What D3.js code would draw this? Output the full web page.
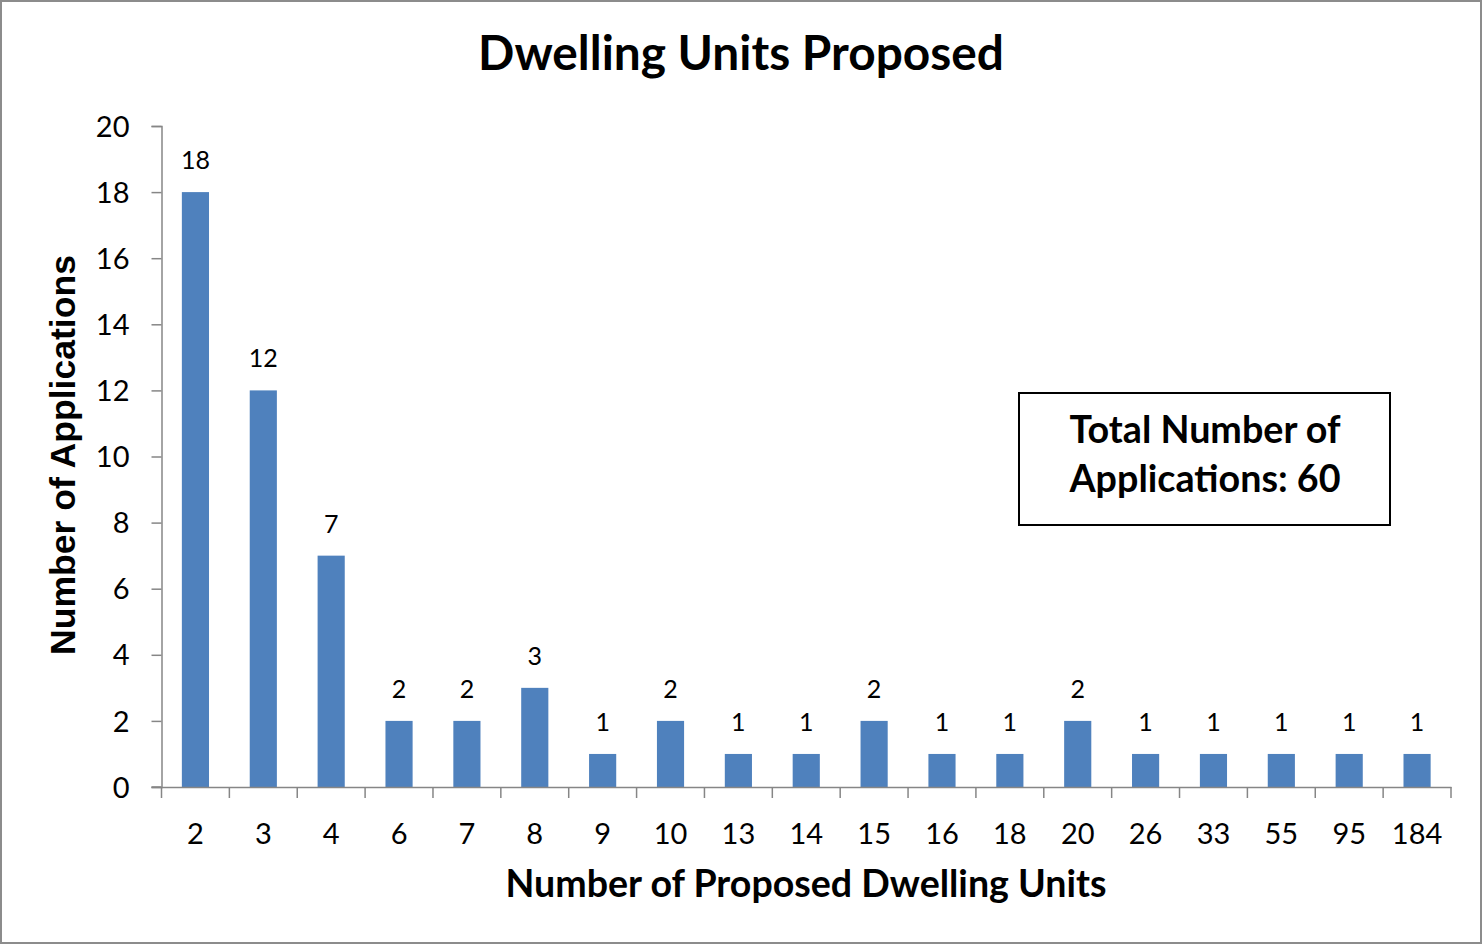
<!DOCTYPE html>
<html>
<head>
<meta charset="utf-8">
<script src="https://cdn.jsdelivr.net/npm/d3@7"></script>
<style>
  html, body { margin: 0; padding: 0; background: #fff; }
  svg { display: block; }
</style>
</head>
<body>
<svg id="chart" width="1483" height="945"></svg>
<script>
const categories = ["2", "3", "4", "6", "7", "8", "9", "10", "13", "14", "15", "16", "18", "20", "26", "33", "55", "95", "184"];
const applications = [18, 12, 7, 2, 2, 3, 1, 2, 1, 1, 2, 1, 1, 2, 1, 1, 1, 1, 1];
const yTicks = [0, 2, 4, 6, 8, 10, 12, 14, 16, 18, 20];
const titleText = "Dwelling Units Proposed";
const xTitleText = "Number of Proposed Dwelling Units";
const yTitleText = "Number of Applications";
const noteLines = ["Total Number of", "Applications: 60"];

const W = 1483, H = 945;
const svg = d3.select("#chart");
const font = "Lato, 'Open Sans', sans-serif";
const axisColor = "#868686";

// outer border
svg.append("rect").attr("x", 1).attr("y", 1).attr("width", W - 3).attr("height", H - 3)
  .attr("fill", "#fff").attr("stroke", "#8c8c8c").attr("stroke-width", 2);

const plot = { left: 161.5, right: 1451, top: 126, bottom: 787 };

const x = d3.scaleBand().domain(categories).range([plot.left, plot.right]).paddingInner(0).paddingOuter(0);
const y = d3.scaleLinear().domain([0, 20]).range([plot.bottom, plot.top]);

function fit(sel, target) {
  const node = sel.node();
  const fs = parseFloat(sel.attr("font-size"));
  const w = node.getComputedTextLength();
  sel.attr("font-size", (fs * target / w).toFixed(2));
}

// bars
const barW = x.bandwidth() * 0.4;
svg.append("g").selectAll("rect").data(applications).join("rect")
  .attr("x", (d, i) => x(categories[i]) + (x.bandwidth() - barW) / 2)
  .attr("y", d => y(d))
  .attr("width", barW)
  .attr("height", d => y(0) - y(d))
  .attr("fill", "#4F81BD");

// data labels
svg.append("g").selectAll("text").data(applications).join("text")
  .attr("x", (d, i) => x(categories[i]) + x.bandwidth() / 2)
  .attr("y", d => y(d) - 23)
  .attr("text-anchor", "middle")
  .attr("font-family", font).attr("font-size", 25).attr("fill", "#000")
  .text(d => d);

// y axis
const yAxis = svg.append("g").attr("transform", `translate(${plot.left},0)`)
  .call(d3.axisLeft(y).tickValues(yTicks).tickSize(10).tickPadding(22).tickFormat(d3.format("d")));
yAxis.select(".domain").attr("stroke", axisColor).attr("stroke-width", 1.5);
yAxis.selectAll(".tick line").attr("stroke", axisColor).attr("stroke-width", 1.5);
yAxis.selectAll(".tick text").attr("font-family", font).attr("font-size", 29).attr("fill", "#000").attr("dy", "0.35em");

// x axis
const xAxis = svg.append("g").attr("transform", `translate(0,${plot.bottom})`)
  .call(d3.axisBottom(x).tickSize(0).tickPadding(36));
xAxis.select(".domain").attr("stroke", axisColor).attr("stroke-width", 1.5);
xAxis.selectAll(".tick text").attr("font-family", font).attr("font-size", 29).attr("fill", "#000");
// category boundary ticks
const bounds = categories.map(c => x(c)).concat([plot.right]);
xAxis.append("g").selectAll("line").data(bounds).join("line")
  .attr("x1", d => d).attr("x2", d => d).attr("y1", 0).attr("y2", 11)
  .attr("stroke", axisColor).attr("stroke-width", 1.5);
svg.append("line").attr("x1", plot.left - 10).attr("x2", plot.left).attr("y1", plot.bottom).attr("y2", plot.bottom)
  .attr("stroke", axisColor).attr("stroke-width", 1.5);

// title
const t = svg.append("text").attr("x", 741).attr("y", 70).attr("text-anchor", "middle")
  .attr("font-family", font).attr("font-weight", "bold").attr("font-size", 44).attr("fill", "#000")
  .text(titleText);
fit(t, 526);

// x title
const xt = svg.append("text").attr("x", 806).attr("y", 897).attr("text-anchor", "middle")
  .attr("font-family", font).attr("font-weight", "bold").attr("font-size", 34).attr("fill", "#000")
  .text(xTitleText);
fit(xt, 601);

// y title
const yt = svg.append("text").attr("transform", "translate(75,455) rotate(-90)").attr("text-anchor", "middle")
  .attr("font-family", "'Liberation Sans', Arial, sans-serif").attr("font-weight", "bold").attr("font-size", 32).attr("fill", "#000")
  .text(yTitleText);
fit(yt, 400);

// note box
svg.append("rect").attr("x", 1019).attr("y", 393).attr("width", 371).attr("height", 132)
  .attr("fill", "#fff").attr("stroke", "#000").attr("stroke-width", 2);
const noteG = svg.append("g");
const l1 = noteG.append("text").attr("x", 1205).attr("y", 443).attr("text-anchor", "middle")
  .attr("font-family", font).attr("font-weight", "bold").attr("font-size", 34).attr("fill", "#000").text(noteLines[0]);
fit(l1, 271);
const l2 = noteG.append("text").attr("x", 1205).attr("y", 492).attr("text-anchor", "middle")
  .attr("font-family", font).attr("font-weight", "bold").attr("font-size", l1.attr("font-size")).attr("fill", "#000").text(noteLines[1]);
</script>
</body>
</html>
